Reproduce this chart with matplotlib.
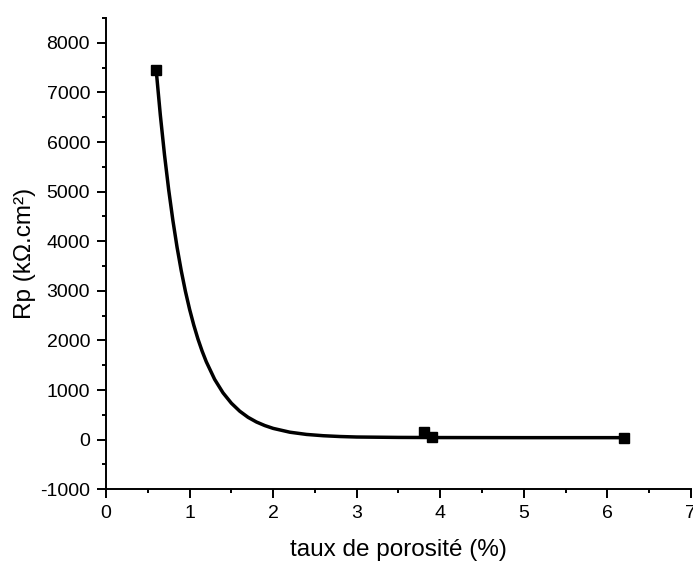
"""Rp en fonction du taux de porosité — points mesurés + courbe d'ajustement."""
import numpy as np
import matplotlib
matplotlib.use("Agg")
import matplotlib.pyplot as plt
from matplotlib.ticker import MultipleLocator

plt.rcParams["font.family"] = ["Liberation Sans", "DejaVu Sans"]
plt.rcParams["axes.unicode_minus"] = False

# points mesurés
porosite = [0.6, 3.8, 3.9, 6.2]
rp = [7450, 150, 50, 40]

# courbe d'ajustement
fit_x = [0.6, 0.65, 0.7, 0.75, 0.8, 0.85, 0.9, 0.95, 1.0, 1.05, 1.1, 1.15, 1.2,
         1.3, 1.4, 1.5, 1.6, 1.7, 1.8, 1.9, 2.0, 2.2, 2.4, 2.6, 2.8, 3.0,
         3.5, 4.0, 5.0, 6.2]
fit_y = [7455, 6541, 5739, 5036, 4421, 3880, 3407, 2991, 2628, 2310, 2029, 1785, 1570,
         1215, 944, 735, 574, 450, 356, 284, 227, 150, 105, 79, 63, 53,
         45, 42, 40, 40]


def main():
    fig = plt.figure(figsize=(6.93, 5.63), dpi=100)
    ax = fig.add_axes([0.153, 0.131, 0.844, 0.837])

    ax.plot(fit_x, fit_y, color="black", lw=2.5, solid_capstyle="round", zorder=2)
    ax.plot(porosite, rp, ls="none", marker="s", ms=7, color="black", zorder=3)

    ax.set_xlim(0, 7); ax.set_ylim(-1000, 8500)
    ax.xaxis.set_major_locator(MultipleLocator(1)); ax.xaxis.set_minor_locator(MultipleLocator(0.5))
    ax.yaxis.set_major_locator(MultipleLocator(1000)); ax.yaxis.set_minor_locator(MultipleLocator(500))
    ax.spines["top"].set_visible(False); ax.spines["right"].set_visible(False)
    for s in ("left", "bottom"):
        ax.spines[s].set_linewidth(1.4)
    ax.tick_params(which="major", direction="out", length=6.5, width=1.4, labelsize=14, pad=5)
    ax.tick_params(which="minor", direction="out", length=3, width=1.4)

    ax.set_xlabel("taux de porosité (%)", fontsize=17.5, labelpad=12)
    ax.set_ylabel("Rp (kΩ.cm²)", fontsize=17.5, labelpad=3)

    fig.savefig("out.png", dpi=100)
    plt.close(fig)


if __name__ == "__main__":
    main()
